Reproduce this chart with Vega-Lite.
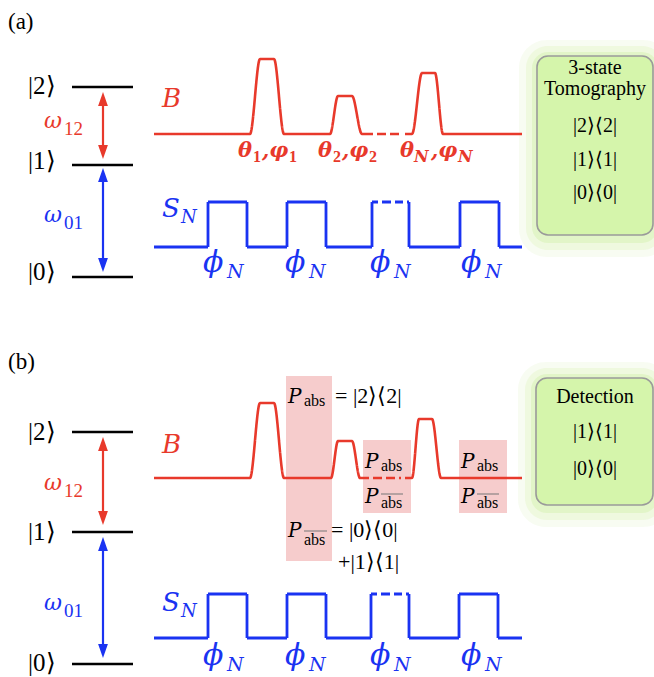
{
  "$schema": "https://vega.github.io/schema/vega-lite/v6.json",
  "width": 654,
  "height": 677,
  "autosize": {"type": "none"},
  "padding": 0,
  "background": "white",
  "config": {"view": {"stroke": null}},
  "datasets": {
    "boxes": [
      {"x": 537, "x2": 653, "y": 56, "y2": 235},
      {"x": 536, "x2": 653, "y": 378, "y2": 505}
    ],
    "pinks": [
      {"x": 286, "x2": 332, "y": 376, "y2": 561},
      {"x": 363, "x2": 411, "y": 440, "y2": 513},
      {"x": 459, "x2": 507, "y": 440, "y2": 513}
    ],
    "levels": [
      {"x": 72, "x2": 133, "y": 87},
      {"x": 72, "x2": 133, "y": 165},
      {"x": 72, "x2": 133, "y": 277},
      {"x": 72, "x2": 133, "y": 432},
      {"x": 72, "x2": 133, "y": 532},
      {"x": 72, "x2": 133, "y": 664}
    ],
    "shafts": [
      {"x": 103, "y": 97, "y2": 154, "c": "r"},
      {"x": 103, "y": 173, "y2": 267, "c": "b"},
      {"x": 103, "y": 442, "y2": 520, "c": "r"},
      {"x": 103, "y": 542, "y2": 653, "c": "b"}
    ],
    "heads": [
      {"x": 103, "y": 99, "d": "u", "c": "r"},
      {"x": 103, "y": 152, "d": "v", "c": "r"},
      {"x": 103, "y": 175, "d": "u", "c": "b"},
      {"x": 103, "y": 265, "d": "v", "c": "b"},
      {"x": 103, "y": 444, "d": "u", "c": "r"},
      {"x": 103, "y": 518, "d": "v", "c": "r"},
      {"x": 103, "y": 544, "d": "u", "c": "b"},
      {"x": 103, "y": 651, "d": "v", "c": "b"}
    ],
    "waves": [
      {"g": "ra1", "i": 1, "x": 154, "y": 134, "c": "r", "d": "s"},
      {"g": "ra1", "i": 2, "x": 250, "y": 134, "c": "r", "d": "s"},
      {"g": "ra1", "i": 3, "x": 260, "y": 59, "c": "r", "d": "s"},
      {"g": "ra1", "i": 4, "x": 274, "y": 59, "c": "r", "d": "s"},
      {"g": "ra1", "i": 5, "x": 284, "y": 134, "c": "r", "d": "s"},
      {"g": "ra1", "i": 6, "x": 330, "y": 134, "c": "r", "d": "s"},
      {"g": "ra1", "i": 7, "x": 338, "y": 96, "c": "r", "d": "s"},
      {"g": "ra1", "i": 8, "x": 352, "y": 96, "c": "r", "d": "s"},
      {"g": "ra1", "i": 9, "x": 362, "y": 134, "c": "r", "d": "s"},
      {"g": "ra1", "i": 10, "x": 373, "y": 134, "c": "r", "d": "s"},
      {"g": "ra2", "i": 11, "x": 377, "y": 134, "c": "r", "d": "d"},
      {"g": "ra2", "i": 12, "x": 401, "y": 134, "c": "r", "d": "d"},
      {"g": "ra3", "i": 13, "x": 405, "y": 134, "c": "r", "d": "s"},
      {"g": "ra3", "i": 14, "x": 412, "y": 134, "c": "r", "d": "s"},
      {"g": "ra3", "i": 15, "x": 422, "y": 73, "c": "r", "d": "s"},
      {"g": "ra3", "i": 16, "x": 435, "y": 73, "c": "r", "d": "s"},
      {"g": "ra3", "i": 17, "x": 443, "y": 134, "c": "r", "d": "s"},
      {"g": "ra3", "i": 18, "x": 522, "y": 134, "c": "r", "d": "s"},
      {"g": "rb1", "i": 21, "x": 154, "y": 478, "c": "r", "d": "s"},
      {"g": "rb1", "i": 22, "x": 250, "y": 478, "c": "r", "d": "s"},
      {"g": "rb1", "i": 23, "x": 260, "y": 403, "c": "r", "d": "s"},
      {"g": "rb1", "i": 24, "x": 274, "y": 403, "c": "r", "d": "s"},
      {"g": "rb1", "i": 25, "x": 284, "y": 478, "c": "r", "d": "s"},
      {"g": "rb1", "i": 26, "x": 331, "y": 478, "c": "r", "d": "s"},
      {"g": "rb1", "i": 27, "x": 338, "y": 441, "c": "r", "d": "s"},
      {"g": "rb1", "i": 28, "x": 352, "y": 441, "c": "r", "d": "s"},
      {"g": "rb1", "i": 29, "x": 360, "y": 478, "c": "r", "d": "s"},
      {"g": "rb1", "i": 30, "x": 369, "y": 478, "c": "r", "d": "s"},
      {"g": "rb2", "i": 31, "x": 373, "y": 478, "c": "r", "d": "d"},
      {"g": "rb2", "i": 32, "x": 401, "y": 478, "c": "r", "d": "d"},
      {"g": "rb3", "i": 33, "x": 405, "y": 478, "c": "r", "d": "s"},
      {"g": "rb3", "i": 34, "x": 412, "y": 478, "c": "r", "d": "s"},
      {"g": "rb3", "i": 35, "x": 419, "y": 419, "c": "r", "d": "s"},
      {"g": "rb3", "i": 36, "x": 432, "y": 419, "c": "r", "d": "s"},
      {"g": "rb3", "i": 37, "x": 441, "y": 478, "c": "r", "d": "s"},
      {"g": "rb3", "i": 38, "x": 522, "y": 478, "c": "r", "d": "s"},
      {"g": "ba1", "i": 41, "x": 154, "y": 247, "c": "b", "d": "s"},
      {"g": "ba1", "i": 42, "x": 208, "y": 247, "c": "b", "d": "s"},
      {"g": "ba1", "i": 43, "x": 208, "y": 202, "c": "b", "d": "s"},
      {"g": "ba1", "i": 44, "x": 247, "y": 202, "c": "b", "d": "s"},
      {"g": "ba1", "i": 45, "x": 247, "y": 247, "c": "b", "d": "s"},
      {"g": "ba1", "i": 46, "x": 287, "y": 247, "c": "b", "d": "s"},
      {"g": "ba1", "i": 47, "x": 287, "y": 202, "c": "b", "d": "s"},
      {"g": "ba1", "i": 48, "x": 326, "y": 202, "c": "b", "d": "s"},
      {"g": "ba1", "i": 49, "x": 326, "y": 247, "c": "b", "d": "s"},
      {"g": "ba1", "i": 50, "x": 372, "y": 247, "c": "b", "d": "s"},
      {"g": "ba1", "i": 51, "x": 372, "y": 202, "c": "b", "d": "s"},
      {"g": "ba1", "i": 52, "x": 378, "y": 202, "c": "b", "d": "s"},
      {"g": "ba2", "i": 53, "x": 382, "y": 202, "c": "b", "d": "d"},
      {"g": "ba2", "i": 54, "x": 403, "y": 202, "c": "b", "d": "d"},
      {"g": "ba3", "i": 55, "x": 407, "y": 202, "c": "b", "d": "s"},
      {"g": "ba3", "i": 56, "x": 409, "y": 202, "c": "b", "d": "s"},
      {"g": "ba3", "i": 57, "x": 409, "y": 247, "c": "b", "d": "s"},
      {"g": "ba3", "i": 58, "x": 460, "y": 247, "c": "b", "d": "s"},
      {"g": "ba3", "i": 59, "x": 460, "y": 202, "c": "b", "d": "s"},
      {"g": "ba3", "i": 60, "x": 499, "y": 202, "c": "b", "d": "s"},
      {"g": "ba3", "i": 61, "x": 499, "y": 247, "c": "b", "d": "s"},
      {"g": "ba3", "i": 62, "x": 522, "y": 247, "c": "b", "d": "s"},
      {"g": "bb1", "i": 71, "x": 154, "y": 638, "c": "b", "d": "s"},
      {"g": "bb1", "i": 72, "x": 208, "y": 638, "c": "b", "d": "s"},
      {"g": "bb1", "i": 73, "x": 208, "y": 594, "c": "b", "d": "s"},
      {"g": "bb1", "i": 74, "x": 247, "y": 594, "c": "b", "d": "s"},
      {"g": "bb1", "i": 75, "x": 247, "y": 638, "c": "b", "d": "s"},
      {"g": "bb1", "i": 76, "x": 287, "y": 638, "c": "b", "d": "s"},
      {"g": "bb1", "i": 77, "x": 287, "y": 594, "c": "b", "d": "s"},
      {"g": "bb1", "i": 78, "x": 326, "y": 594, "c": "b", "d": "s"},
      {"g": "bb1", "i": 79, "x": 326, "y": 638, "c": "b", "d": "s"},
      {"g": "bb1", "i": 80, "x": 371, "y": 638, "c": "b", "d": "s"},
      {"g": "bb1", "i": 81, "x": 371, "y": 594, "c": "b", "d": "s"},
      {"g": "bb1", "i": 82, "x": 377, "y": 594, "c": "b", "d": "s"},
      {"g": "bb2", "i": 83, "x": 381, "y": 594, "c": "b", "d": "d"},
      {"g": "bb2", "i": 84, "x": 402, "y": 594, "c": "b", "d": "d"},
      {"g": "bb3", "i": 85, "x": 406, "y": 594, "c": "b", "d": "s"},
      {"g": "bb3", "i": 86, "x": 409, "y": 594, "c": "b", "d": "s"},
      {"g": "bb3", "i": 87, "x": 409, "y": 638, "c": "b", "d": "s"},
      {"g": "bb3", "i": 88, "x": 459, "y": 638, "c": "b", "d": "s"},
      {"g": "bb3", "i": 89, "x": 459, "y": 594, "c": "b", "d": "s"},
      {"g": "bb3", "i": 90, "x": 498, "y": 594, "c": "b", "d": "s"},
      {"g": "bb3", "i": 91, "x": 498, "y": 638, "c": "b", "d": "s"},
      {"g": "bb3", "i": 92, "x": 522, "y": 638, "c": "b", "d": "s"}
    ],
    "overlines": [
      {"x": 304, "x2": 327, "y": 531},
      {"x": 381, "x2": 403, "y": 494},
      {"x": 477, "x2": 499, "y": 494}
    ],
    "texts": [
      {"k": "lab", "t": "(a)", "x": 8, "y": 29, "c": "k"},
      {"k": "lab", "t": "(b)", "x": 8, "y": 369, "c": "k"},
      {"k": "ket", "t": "|2⟩", "x": 28, "y": 94, "c": "k"},
      {"k": "ket", "t": "|1⟩", "x": 28, "y": 169, "c": "k"},
      {"k": "ket", "t": "|0⟩", "x": 28, "y": 280, "c": "k"},
      {"k": "ket", "t": "|2⟩", "x": 28, "y": 440, "c": "k"},
      {"k": "ket", "t": "|1⟩", "x": 28, "y": 540, "c": "k"},
      {"k": "ket", "t": "|0⟩", "x": 28, "y": 671, "c": "k"},
      {"k": "om", "t": "ω", "x": 44, "y": 128, "c": "r"},
      {"k": "om", "t": "ω", "x": 44, "y": 222, "c": "b"},
      {"k": "om", "t": "ω", "x": 44, "y": 490, "c": "r"},
      {"k": "om", "t": "ω", "x": 44, "y": 610, "c": "b"},
      {"k": "sub", "t": "12", "x": 64, "y": 135, "c": "r"},
      {"k": "sub", "t": "01", "x": 64, "y": 229, "c": "b"},
      {"k": "sub", "t": "12", "x": 64, "y": 497, "c": "r"},
      {"k": "sub", "t": "01", "x": 64, "y": 617, "c": "b"},
      {"k": "big", "t": "B", "x": 162, "y": 107, "c": "r"},
      {"k": "big", "t": "S", "x": 162, "y": 217, "c": "b"},
      {"k": "big", "t": "B", "x": 162, "y": 453, "c": "r"},
      {"k": "big", "t": "S", "x": 162, "y": 611, "c": "b"},
      {"k": "nsub", "t": "N", "x": 181, "y": 223, "c": "b"},
      {"k": "nsub", "t": "N", "x": 181, "y": 617, "c": "b"},
      {"k": "phi", "t": "ϕ", "x": 203, "y": 272, "c": "b"},
      {"k": "phi", "t": "ϕ", "x": 285, "y": 272, "c": "b"},
      {"k": "phi", "t": "ϕ", "x": 370, "y": 272, "c": "b"},
      {"k": "phi", "t": "ϕ", "x": 461, "y": 272, "c": "b"},
      {"k": "phi", "t": "ϕ", "x": 203, "y": 665, "c": "b"},
      {"k": "phi", "t": "ϕ", "x": 285, "y": 665, "c": "b"},
      {"k": "phi", "t": "ϕ", "x": 370, "y": 665, "c": "b"},
      {"k": "phi", "t": "ϕ", "x": 461, "y": 665, "c": "b"},
      {"k": "phisub", "t": "N", "x": 227, "y": 278, "c": "b"},
      {"k": "phisub", "t": "N", "x": 309, "y": 278, "c": "b"},
      {"k": "phisub", "t": "N", "x": 394, "y": 278, "c": "b"},
      {"k": "phisub", "t": "N", "x": 485, "y": 278, "c": "b"},
      {"k": "phisub", "t": "N", "x": 227, "y": 671, "c": "b"},
      {"k": "phisub", "t": "N", "x": 309, "y": 671, "c": "b"},
      {"k": "phisub", "t": "N", "x": 394, "y": 671, "c": "b"},
      {"k": "phisub", "t": "N", "x": 485, "y": 671, "c": "b"},
      {"k": "th", "t": "θ", "x": 238, "y": 157, "c": "r"},
      {"k": "th", "t": ",φ", "x": 262, "y": 157, "c": "r"},
      {"k": "th", "t": "θ", "x": 318, "y": 157, "c": "r"},
      {"k": "th", "t": ",φ", "x": 342, "y": 157, "c": "r"},
      {"k": "th", "t": "θ", "x": 400, "y": 157, "c": "r"},
      {"k": "th", "t": ",φ", "x": 431, "y": 157, "c": "r"},
      {"k": "thsub", "t": "1", "x": 253, "y": 162, "c": "r"},
      {"k": "thsub", "t": "1", "x": 289, "y": 162, "c": "r"},
      {"k": "thsub", "t": "2", "x": 333, "y": 162, "c": "r"},
      {"k": "thsub", "t": "2", "x": 369, "y": 162, "c": "r"},
      {"k": "thsubN", "t": "N", "x": 414, "y": 162, "c": "r"},
      {"k": "thsubN", "t": "N", "x": 458, "y": 162, "c": "r"},
      {"k": "P", "t": "P", "x": 288, "y": 403, "c": "k"},
      {"k": "P", "t": "P", "x": 288, "y": 537, "c": "k"},
      {"k": "P", "t": "P", "x": 365, "y": 468, "c": "k"},
      {"k": "P", "t": "P", "x": 365, "y": 503, "c": "k"},
      {"k": "P", "t": "P", "x": 461, "y": 468, "c": "k"},
      {"k": "P", "t": "P", "x": 461, "y": 503, "c": "k"},
      {"k": "abs", "t": "abs", "x": 304, "y": 406, "c": "k"},
      {"k": "abs", "t": "abs", "x": 304, "y": 545, "c": "k"},
      {"k": "abs", "t": "abs", "x": 381, "y": 471, "c": "k"},
      {"k": "abs", "t": "abs", "x": 381, "y": 508, "c": "k"},
      {"k": "abs", "t": "abs", "x": 477, "y": 471, "c": "k"},
      {"k": "abs", "t": "abs", "x": 477, "y": 508, "c": "k"},
      {"k": "eq", "t": "= |2⟩⟨2|", "x": 335, "y": 403, "c": "k"},
      {"k": "eq", "t": "= |0⟩⟨0|", "x": 331, "y": 537, "c": "k"},
      {"k": "eq", "t": "+|1⟩⟨1|", "x": 338, "y": 569, "c": "k"},
      {"k": "box", "t": "3-state", "x": 595, "y": 74, "c": "k"},
      {"k": "box", "t": "Tomography", "x": 595, "y": 95, "c": "k"},
      {"k": "box", "t": "|2⟩⟨2|", "x": 595, "y": 132, "c": "k"},
      {"k": "box", "t": "|1⟩⟨1|", "x": 595, "y": 166, "c": "k"},
      {"k": "box", "t": "|0⟩⟨0|", "x": 595, "y": 199, "c": "k"},
      {"k": "box", "t": "Detection", "x": 595, "y": 403, "c": "k"},
      {"k": "box", "t": "|1⟩⟨1|", "x": 595, "y": 438, "c": "k"},
      {"k": "box", "t": "|0⟩⟨0|", "x": 595, "y": 475, "c": "k"}
    ]
  },
  "encoding": {
    "x": {"field": "x", "type": "quantitative", "scale": {"domain": [0, 654], "nice": false, "zero": false}, "axis": null},
    "y": {"field": "y", "type": "quantitative", "scale": {"domain": [0, 677], "nice": false, "zero": false, "reverse": true}, "axis": null}
  },
  "layer": [
    {"data": {"name": "boxes"}, "mark": {"type": "rect", "fill": "#dcf2bd", "opacity": 0.2, "cornerRadius": 28, "xOffset": -18, "x2Offset": 18, "yOffset": -16, "y2Offset": 22}, "encoding": {"x2": {"field": "x2"}, "y2": {"field": "y2"}}},
    {"data": {"name": "boxes"}, "mark": {"type": "rect", "fill": "#d6f0b0", "opacity": 0.28, "cornerRadius": 22, "xOffset": -11, "x2Offset": 11, "yOffset": -10, "y2Offset": 15}, "encoding": {"x2": {"field": "x2"}, "y2": {"field": "y2"}}},
    {"data": {"name": "boxes"}, "mark": {"type": "rect", "fill": "#cdeea2", "opacity": 0.38, "cornerRadius": 16, "xOffset": -5, "x2Offset": 5, "yOffset": -4, "y2Offset": 8}, "encoding": {"x2": {"field": "x2"}, "y2": {"field": "y2"}}},
    {"data": {"name": "boxes"}, "mark": {"type": "rect", "fill": "#d5f5ab", "stroke": "#9a9a9a", "strokeWidth": 1.6, "cornerRadius": 11}, "encoding": {"x2": {"field": "x2"}, "y2": {"field": "y2"}}},
    {"data": {"name": "pinks"}, "mark": {"type": "rect", "fill": "#f5c6c6", "opacity": 0.9}, "encoding": {"x2": {"field": "x2"}, "y2": {"field": "y2"}}},
    {"data": {"name": "levels"}, "mark": {"type": "rule", "color": "#000000", "strokeWidth": 2.5}, "encoding": {"x2": {"field": "x2"}}},
    {"data": {"name": "shafts"}, "mark": {"type": "rule", "strokeWidth": 2.2}, "encoding": {"y2": {"field": "y2"}, "color": {"field": "c", "type": "nominal", "scale": {"domain": ["r", "b", "k"], "range": ["#e8392b", "#1a33f2", "#000000"]}, "legend": null}}},
    {"data": {"name": "heads"}, "mark": {"type": "point", "filled": true, "opacity": 1, "size": 196, "strokeWidth": 0}, "encoding": {"shape": {"field": "d", "type": "nominal", "scale": {"domain": ["u", "v"], "range": ["M0,-1L0.7,1L-0.7,1Z", "M0,1L0.7,-1L-0.7,-1Z"]}, "legend": null}, "color": {"field": "c", "type": "nominal", "scale": {"domain": ["r", "b", "k"], "range": ["#e8392b", "#1a33f2", "#000000"]}, "legend": null}}},
    {"data": {"name": "waves"}, "transform": [{"filter": "datum.c === 'r'"}], "mark": {"type": "line", "interpolate": "monotone", "strokeWidth": 2.6}, "encoding": {"detail": {"field": "g"}, "order": {"field": "i", "type": "quantitative"}, "strokeDash": {"field": "d", "type": "nominal", "scale": {"domain": ["s", "d"], "range": [[1, 0], [9, 4]]}, "legend": null}, "color": {"field": "c", "type": "nominal", "scale": {"domain": ["r", "b", "k"], "range": ["#e8392b", "#1a33f2", "#000000"]}, "legend": null}}},
    {"data": {"name": "waves"}, "transform": [{"filter": "datum.c === 'b'"}], "mark": {"type": "line", "interpolate": "linear", "strokeWidth": 2.8, "strokeJoin": "miter"}, "encoding": {"detail": {"field": "g"}, "order": {"field": "i", "type": "quantitative"}, "strokeDash": {"field": "d", "type": "nominal", "scale": {"domain": ["s", "d"], "range": [[1, 0], [9, 4]]}, "legend": null}, "color": {"field": "c", "type": "nominal", "scale": {"domain": ["r", "b", "k"], "range": ["#e8392b", "#1a33f2", "#000000"]}, "legend": null}}},
    {"data": {"name": "overlines"}, "mark": {"type": "rule", "color": "#777777", "strokeWidth": 1}, "encoding": {"x2": {"field": "x2"}}},
    {"data": {"name": "texts"}, "transform": [{"filter": "datum.k === 'lab'"}], "mark": {"type": "text", "font": "Liberation Serif", "fontSize": 23, "align": "left", "baseline": "alphabetic"}, "encoding": {"text": {"field": "t"}, "color": {"field": "c", "type": "nominal", "scale": {"domain": ["r", "b", "k"], "range": ["#e8392b", "#1a33f2", "#000000"]}, "legend": null}}},
    {"data": {"name": "texts"}, "transform": [{"filter": "datum.k === 'ket'"}], "mark": {"type": "text", "font": "Liberation Serif", "fontSize": 25, "align": "left", "baseline": "alphabetic"}, "encoding": {"text": {"field": "t"}, "color": {"field": "c", "type": "nominal", "scale": {"domain": ["r", "b", "k"], "range": ["#e8392b", "#1a33f2", "#000000"]}, "legend": null}}},
    {"data": {"name": "texts"}, "transform": [{"filter": "datum.k === 'om'"}], "mark": {"type": "text", "font": "DejaVu Serif", "fontSize": 22, "fontStyle": "italic", "align": "left", "baseline": "alphabetic"}, "encoding": {"text": {"field": "t"}, "color": {"field": "c", "type": "nominal", "scale": {"domain": ["r", "b", "k"], "range": ["#e8392b", "#1a33f2", "#000000"]}, "legend": null}}},
    {"data": {"name": "texts"}, "transform": [{"filter": "datum.k === 'sub'"}], "mark": {"type": "text", "font": "Liberation Serif", "fontSize": 19, "align": "left", "baseline": "alphabetic"}, "encoding": {"text": {"field": "t"}, "color": {"field": "c", "type": "nominal", "scale": {"domain": ["r", "b", "k"], "range": ["#e8392b", "#1a33f2", "#000000"]}, "legend": null}}},
    {"data": {"name": "texts"}, "transform": [{"filter": "datum.k === 'big'"}], "mark": {"type": "text", "font": "DejaVu Serif", "fontSize": 26, "fontStyle": "italic", "align": "left", "baseline": "alphabetic"}, "encoding": {"text": {"field": "t"}, "color": {"field": "c", "type": "nominal", "scale": {"domain": ["r", "b", "k"], "range": ["#e8392b", "#1a33f2", "#000000"]}, "legend": null}}},
    {"data": {"name": "texts"}, "transform": [{"filter": "datum.k === 'nsub'"}], "mark": {"type": "text", "font": "DejaVu Serif", "fontSize": 18, "fontStyle": "italic", "align": "left", "baseline": "alphabetic"}, "encoding": {"text": {"field": "t"}, "color": {"field": "c", "type": "nominal", "scale": {"domain": ["r", "b", "k"], "range": ["#e8392b", "#1a33f2", "#000000"]}, "legend": null}}},
    {"data": {"name": "texts"}, "transform": [{"filter": "datum.k === 'phi'"}], "mark": {"type": "text", "font": "DejaVu Serif", "fontSize": 30, "fontStyle": "italic", "align": "left", "baseline": "alphabetic"}, "encoding": {"text": {"field": "t"}, "color": {"field": "c", "type": "nominal", "scale": {"domain": ["r", "b", "k"], "range": ["#e8392b", "#1a33f2", "#000000"]}, "legend": null}}},
    {"data": {"name": "texts"}, "transform": [{"filter": "datum.k === 'phisub'"}], "mark": {"type": "text", "font": "DejaVu Serif", "fontSize": 19, "fontStyle": "italic", "align": "left", "baseline": "alphabetic"}, "encoding": {"text": {"field": "t"}, "color": {"field": "c", "type": "nominal", "scale": {"domain": ["r", "b", "k"], "range": ["#e8392b", "#1a33f2", "#000000"]}, "legend": null}}},
    {"data": {"name": "texts"}, "transform": [{"filter": "datum.k === 'th'"}], "mark": {"type": "text", "font": "DejaVu Serif", "fontSize": 21, "fontStyle": "italic", "fontWeight": "bold", "align": "left", "baseline": "alphabetic"}, "encoding": {"text": {"field": "t"}, "color": {"field": "c", "type": "nominal", "scale": {"domain": ["r", "b", "k"], "range": ["#e8392b", "#1a33f2", "#000000"]}, "legend": null}}},
    {"data": {"name": "texts"}, "transform": [{"filter": "datum.k === 'thsub'"}], "mark": {"type": "text", "font": "Liberation Serif", "fontSize": 16, "fontWeight": "bold", "align": "left", "baseline": "alphabetic"}, "encoding": {"text": {"field": "t"}, "color": {"field": "c", "type": "nominal", "scale": {"domain": ["r", "b", "k"], "range": ["#e8392b", "#1a33f2", "#000000"]}, "legend": null}}},
    {"data": {"name": "texts"}, "transform": [{"filter": "datum.k === 'thsubN'"}], "mark": {"type": "text", "font": "DejaVu Serif", "fontSize": 16, "fontWeight": "bold", "fontStyle": "italic", "align": "left", "baseline": "alphabetic"}, "encoding": {"text": {"field": "t"}, "color": {"field": "c", "type": "nominal", "scale": {"domain": ["r", "b", "k"], "range": ["#e8392b", "#1a33f2", "#000000"]}, "legend": null}}},
    {"data": {"name": "texts"}, "transform": [{"filter": "datum.k === 'P'"}], "mark": {"type": "text", "font": "DejaVu Serif", "fontSize": 20, "fontStyle": "italic", "align": "left", "baseline": "alphabetic"}, "encoding": {"text": {"field": "t"}, "color": {"field": "c", "type": "nominal", "scale": {"domain": ["r", "b", "k"], "range": ["#e8392b", "#1a33f2", "#000000"]}, "legend": null}}},
    {"data": {"name": "texts"}, "transform": [{"filter": "datum.k === 'abs'"}], "mark": {"type": "text", "font": "Liberation Serif", "fontSize": 16, "align": "left", "baseline": "alphabetic"}, "encoding": {"text": {"field": "t"}, "color": {"field": "c", "type": "nominal", "scale": {"domain": ["r", "b", "k"], "range": ["#e8392b", "#1a33f2", "#000000"]}, "legend": null}}},
    {"data": {"name": "texts"}, "transform": [{"filter": "datum.k === 'eq'"}], "mark": {"type": "text", "font": "Liberation Serif", "fontSize": 22, "align": "left", "baseline": "alphabetic"}, "encoding": {"text": {"field": "t"}, "color": {"field": "c", "type": "nominal", "scale": {"domain": ["r", "b", "k"], "range": ["#e8392b", "#1a33f2", "#000000"]}, "legend": null}}},
    {"data": {"name": "texts"}, "transform": [{"filter": "datum.k === 'box'"}], "mark": {"type": "text", "font": "Liberation Serif", "fontSize": 20, "align": "center", "baseline": "alphabetic"}, "encoding": {"text": {"field": "t"}, "color": {"field": "c", "type": "nominal", "scale": {"domain": ["r", "b", "k"], "range": ["#e8392b", "#1a33f2", "#000000"]}, "legend": null}}}
  ]
}
